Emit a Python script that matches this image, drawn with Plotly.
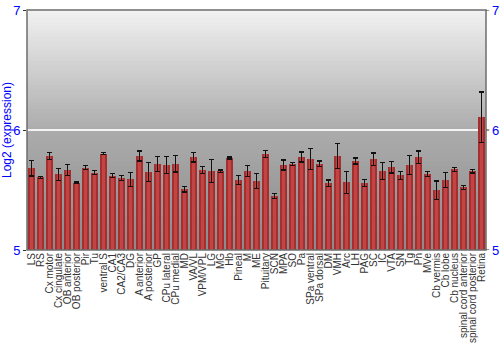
import plotly.graph_objects as go

regions = ["LS", "RS", "Cx motor", "Cx cingulate", "OB anterior", "OB posterior", "Pir", "Tu",
           "ventral S", "CA1", "CA2/CA3", "DG", "A anterior", "A posterior", "GP", "CPu lateral",
           "CPu medial", "MD", "VA/VL", "VPM/VPL", "LG", "MG", "Hb", "Pineal", "M", "ME",
           "Pituitary", "SCN", "MPA", "SO", "Pa", "SPa ventral", "SPa dorsal", "DM", "VMH", "Arc",
           "LH", "PAG", "SC", "IC", "VTA", "SN", "Tg", "Pn", "MVe", "Cb vermis", "Cb lobe",
           "Cb nucleus", "spinal cord anterior", "spinal cord posterior", "Retina"]

expression = [5.68, 5.606, 5.783, 5.63, 5.667, 5.561, 5.686, 5.644,
              5.803, 5.62, 5.60, 5.589, 5.783, 5.65, 5.717, 5.706,
              5.72, 5.506, 5.772, 5.669, 5.658, 5.656, 5.767, 5.583, 5.658, 5.575,
              5.80, 5.45, 5.708, 5.717, 5.775, 5.761, 5.72, 5.556, 5.783, 5.564,
              5.742, 5.558, 5.756, 5.658, 5.689, 5.622, 5.708, 5.772, 5.633, 5.497, 5.583,
              5.672, 5.522, 5.656, 6.106]

error = [0.064, 0.007, 0.03, 0.05, 0.043, 0.005, 0.015, 0.017,
         0.01, 0.018, 0.02, 0.058, 0.042, 0.078, 0.0625, 0.071,
         0.07, 0.022, 0.039, 0.029, 0.093, 0.01, 0.008, 0.036, 0.044, 0.064,
         0.032, 0.021, 0.042, 0.01, 0.042, 0.0875, 0.022, 0.028, 0.104, 0.093,
         0.025, 0.03, 0.053, 0.071, 0.047, 0.035, 0.078, 0.053, 0.022, 0.078, 0.0625,
         0.017, 0.018, 0.014, 0.211]

y_range = [5, 7]
y_ticks = [5, 6, 7]

fig = go.Figure()

# shaded bars: dark edge, mid, light centre
layers = [("#7e1e1e", 0.88), ("#a52e2e", 0.68), ("#c24444", 0.40)]
for i, (col, w) in enumerate(layers):
    last = i == len(layers) - 1
    fig.add_trace(go.Bar(
        x=regions, y=[v - y_range[0] for v in expression], base=y_range[0],
        width=w, marker=dict(color=col, line=dict(width=0)),
        error_y=dict(type="data", array=error, color="#111111", thickness=1.2, width=2.5,
                     visible=last),
        showlegend=False, hoverinfo="skip" if not last else None,
    ))

# gradient background bands
n = 60
shapes = []
def shade(t):
    if t < 0.5:
        return 242 - (242 - 172) * (t / 0.5)
    return 172 - (172 - 138) * ((t - 0.5) / 0.5)
for k in range(n):
    t0, t1 = k / n, (k + 1) / n
    g = int(round(shade((t0 + t1) / 2)))
    shapes.append(dict(type="rect", xref="x domain", yref="y domain",
                       x0=0, x1=1, y0=1 - t1, y1=1 - t0 + 0.002,
                       fillcolor=f"rgb({g},{g},{g})", line=dict(width=0), layer="below"))
# frame
shapes.append(dict(type="rect", xref="x domain", yref="y domain", x0=0, x1=1, y0=0, y1=1,
                   line=dict(color="#6e6e6e", width=1.5), fillcolor="rgba(0,0,0,0)", layer="above"))

axis_font = dict(family="Liberation Sans, Arial, sans-serif", size=13, color="#0000ff")

# right-hand tick labels as annotations at the y tick values
annotations = [dict(x=1, xref="x domain", y=v, yref="y", text=str(v), showarrow=False,
                    xanchor="left", xshift=4, font=axis_font) for v in y_ticks]
# small tick marks on the right
for v in y_ticks:
    shapes.append(dict(type="line", xref="x domain", yref="y", x0=1, x1=1.007, y0=v, y1=v,
                       line=dict(color="#333333", width=1), layer="above"))

fig.update_layout(
    width=500, height=350,
    margin=dict(l=27, r=14, t=10, b=100),
    paper_bgcolor="white", plot_bgcolor="rgba(0,0,0,0)",
    barmode="overlay", bargap=0,
    shapes=shapes, annotations=annotations,
    font=dict(family="Liberation Sans, Arial, sans-serif"),
    xaxis=dict(type="category", tickangle=-90, tickfont=dict(size=10, color="#333333"),
               tickmode="array", tickvals=regions, ticktext=regions, automargin=False,
               showgrid=False, ticks="", showline=False,
               range=[-0.5, len(regions) - 0.5]),
    yaxis=dict(range=y_range, tickvals=y_ticks, tickfont=axis_font, automargin=False,
               ticks="outside", ticklen=3, tickcolor="#333333",
               showline=False,
               showgrid=True, gridcolor="#f4f4f4", gridwidth=2, zeroline=False,
               title=dict(text="Log2 (expression)", font=dict(size=12, color="#0000ff"), standoff=2)),
)

fig.write_html("out.html")
